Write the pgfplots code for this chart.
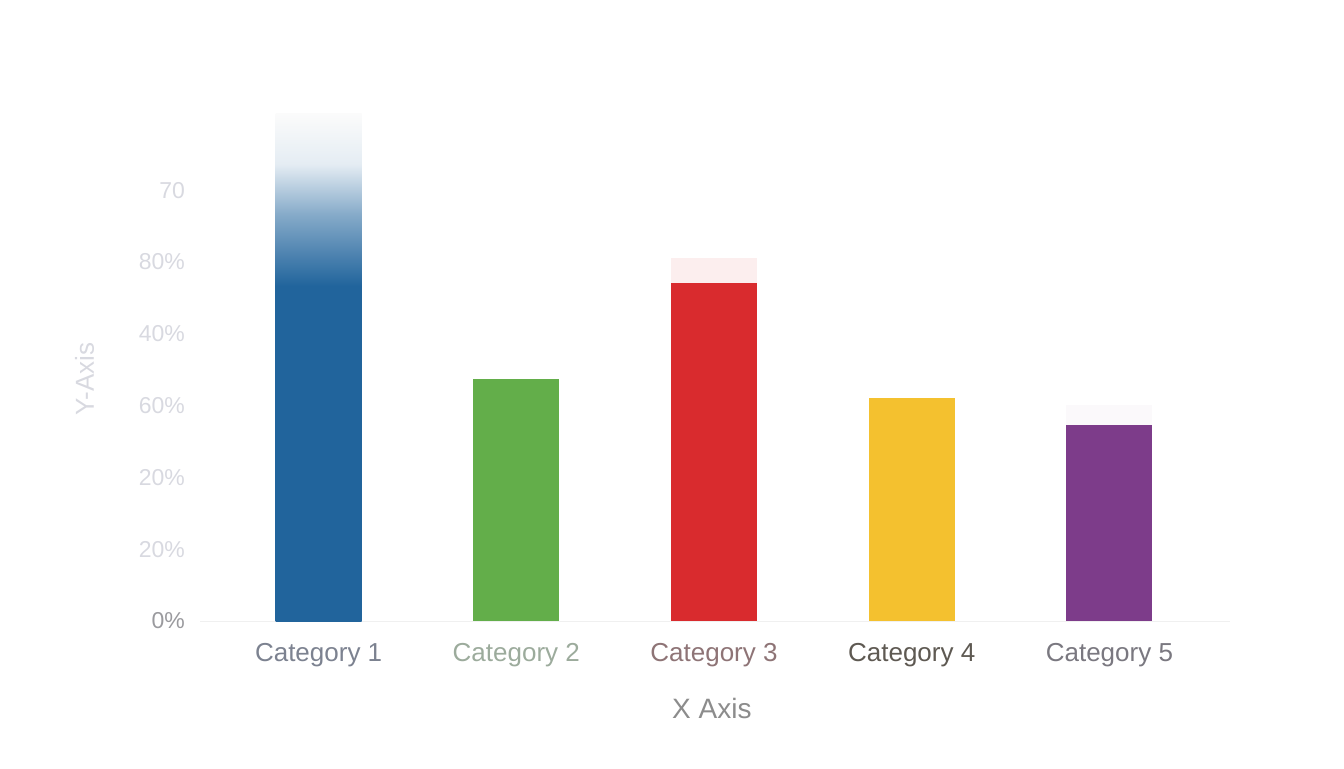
\documentclass[border=0pt]{standalone}
\usepackage{pgfplots}
\pgfplotsset{compat=1.18}
\usepackage{fontspec}
\setmainfont{Liberation Sans}

\definecolor{cblue}{HTML}{21649C}
\definecolor{cgreen}{HTML}{63AE4A}
\definecolor{cred}{HTML}{D92B2E}
\definecolor{cyellow}{HTML}{F4C12F}
\definecolor{cpurple}{HTML}{7D3C8A}
\definecolor{tlight}{HTML}{D8D9E0}
\definecolor{tdark}{HTML}{9A9A9E}

% fade at the top of the first bar
\pgfdeclareverticalshading{bluefade}{100bp}{%
  color(0bp)=(cblue); color(25bp)=(cblue); color(58bp)=(cblue);
  color(65bp)=(cblue!55!white); color(70bp)=(white!88!cblue);
  color(75bp)=(white!97!gray); color(100bp)=(white!97!gray)}

\begin{document}
\begin{tikzpicture}
  \path[use as bounding box] (0,0) rectangle (672pt,384pt);
  \begin{axis}[%
      at={(100pt,73.5pt)}, anchor=south west,
      width=515pt, height=269.25pt,
      scale only axis,
      xmin=-0.6, xmax=4.61,
      ymin=0, ymax=75,
      axis line style={draw=none},
      major tick length=0pt,
      xtick={0,1,2,3,4},
      xticklabels={%
        {\textcolor[HTML]{7C8290}{Category 1}},
        {\textcolor[HTML]{9CAB9C}{Category 2}},
        {\textcolor[HTML]{8E7476}{Category 3}},
        {\textcolor[HTML]{5E5952}{Category 4}},
        {\textcolor[HTML]{7A7880}{Category 5}}},
      xticklabel style={font=\fontsize{13pt}{15pt}\selectfont, yshift=-7.5pt},
      ytick={0,10,20,30,40,50,60},
      yticklabels={%
        {\textcolor{tdark}{0\%}},
        {\textcolor{tlight}{20\%}},
        {\textcolor{tlight}{20\%}},
        {\textcolor{tlight}{60\%}},
        {\textcolor{tlight}{40\%}},
        {\textcolor{tlight}{80\%}},
        {\textcolor{tlight}{70}}},
      yticklabel style={font=\fontsize{11.5pt}{13pt}\selectfont, xshift=-4pt},
      xlabel={X Axis},
      ylabel={Y-Axis},
      every axis x label/.style={at={(axis description cs:0.497,-0.163)},
        anchor=center, font=\fontsize{14pt}{16pt}\selectfont, text=black!45},
      every axis y label/.style={at={(axis description cs:-0.112,0.45)},
        rotate=90, anchor=center, font=\fontsize{13pt}{15pt}\selectfont, text=tlight},
      ybar, bar width=43pt, bar shift=0pt,
      clip=false]

    \draw[black!6] (rel axis cs:0,0) -- (rel axis cs:1,0);

    % faint halos above some bars
    \addplot[draw=none, fill=cred!8] coordinates {(2,50.6)};
    \addplot[draw=none, fill=cpurple!3] coordinates {(4,30.1)};

    \addplot[draw=none, shading=bluefade] coordinates {(0,70.7)};
    \addplot[draw=none, fill=cgreen]  coordinates {(1,33.7)};
    \addplot[draw=none, fill=cred]    coordinates {(2,47.1)};
    \addplot[draw=none, fill=cyellow] coordinates {(3,31.1)};
    \addplot[draw=none, fill=cpurple] coordinates {(4,27.3)};

  \end{axis}
\end{tikzpicture}
\end{document}
